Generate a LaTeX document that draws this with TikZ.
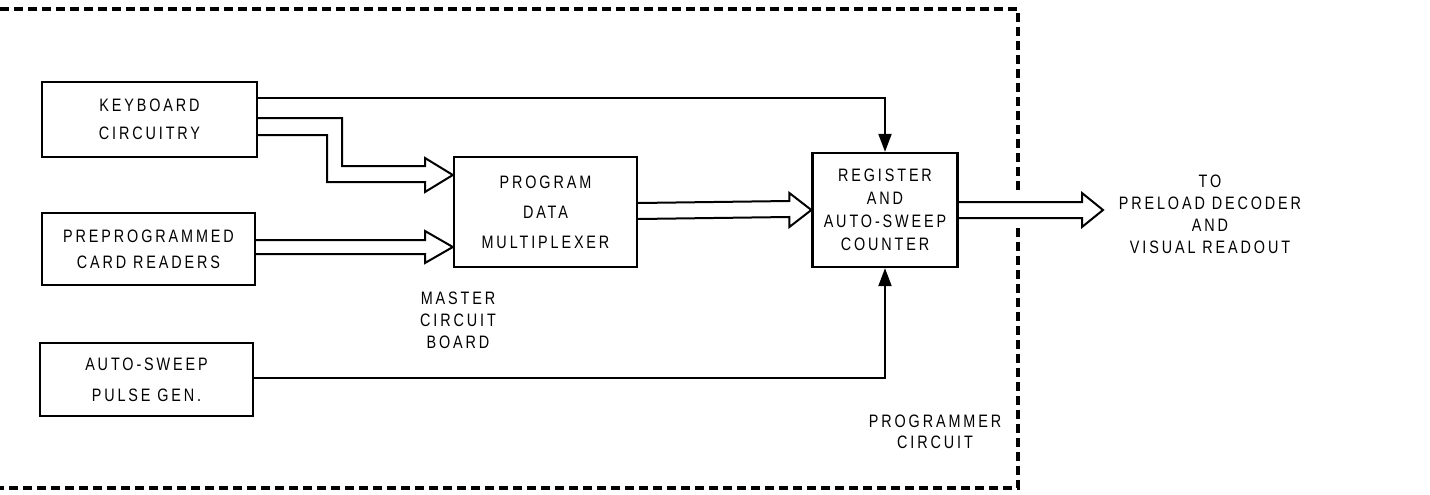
\documentclass[tikz,border=0pt]{standalone}
\usepackage{fontspec}
\newfontfamily\lab[FakeStretch=0.8,LetterSpace=16]{Liberation Sans}
\usetikzlibrary{arrows.meta,calc}
\begin{document}
\begin{tikzpicture}[x=1pt,y=-1pt,
  blk/.style={draw,line width=2.3pt,inner sep=0pt,align=center},
  txt/.style={inner sep=0pt,align=center},
  wire/.style={line width=2pt,line join=miter},
  solidarr/.style={wire,-{Triangle[length=18pt,width=13pt]}},
  frame/.style={line width=3.4pt,dash pattern=on 9pt off 5pt}]
\useasboundingbox (0,0) rectangle (1430,495);
\tikzset{every node/.append style={font=\lab\fontsize{18}{22}\selectfont}}

% blocks
\node[blk,minimum width=215pt,minimum height=75pt,font=\lab\fontsize{18}{28}\selectfont] (kb) at (149.5,119.5) {KEYBOARD\\CIRCUITRY};
\node[blk,minimum width=213pt,minimum height=72pt,font=\lab\fontsize{18}{26}\selectfont] (pp) at (148.5,249) {PREPROGRAMMED\\CARD READERS};
\node[blk,minimum width=213pt,minimum height=73pt,font=\lab\fontsize{18}{31}\selectfont] (as) at (146.5,379.5) {AUTO-SWEEP\\PULSE GEN.};
\node[blk,minimum width=183pt,minimum height=110pt,font=\lab\fontsize{18}{30}\selectfont] (mux) at (545.5,212) {PROGRAM\\DATA\\MULTIPLEXER};
\node[blk,minimum width=145pt,minimum height=114pt,font=\lab\fontsize{18}{23}\selectfont] (reg) at (885,210) {REGISTER\\AND\\AUTO-SWEEP\\COUNTER};

% labels
\node[txt] (master) at (458,320) {MASTER\\CIRCUIT\\BOARD};
\node[txt,font=\lab\fontsize{18}{21}\selectfont] (prog) at (935,432) {PROGRAMMER\\CIRCUIT};
\node[txt] (dest) at (1210,214) {TO\\PRELOAD DECODER\\AND\\VISUAL READOUT};
\coordinate (out) at (1103,210);

% frame
\draw[frame] (0,9) -- (1018,9) -- (1018,192);
\draw[frame] (1018,228) -- (1018,488) -- (0,488);

% single-line connectors
\draw[solidarr] (kb.east |- 0,98) -- (reg.north |- 0,98) -- (reg.north);
\draw[solidarr] (as.east |- 0,378) -- (reg.south |- 0,378) -- (reg.south);

% bus: keyboard -> multiplexer
\draw[wire] (kb.east |- 0,118) -- (342,118) -- (342,166) -- (425,166) -- (425,158)
  -- (mux.west |- 0,175) -- (425,192) -- (425,182) -- (327,182) -- (327,135) -- (kb.east |- 0,135);
% bus: card readers -> multiplexer
\draw[wire] (pp.east |- 0,240) -- (425,240) -- (425,231)
  -- (mux.west |- 0,247) -- (425,263) -- (425,254) -- (pp.east |- 0,254);
% bus: multiplexer -> register
\draw[wire] ($(mux.east)+(0,-9)$) -- ($(reg.west)+(-22,-9)$) -- ($(reg.west)+(-22,-17)$)
  -- (reg.west) -- ($(reg.west)+(-22,17)$) -- ($(reg.west)+(-22,7)$) -- ($(mux.east)+(0,7)$);
% bus: register -> output
\draw[wire] ($(reg.east)+(0,-8)$) -- ($(out)+(-21,-8)$) -- ($(out)+(-21,-17)$)
  -- (out) -- ($(out)+(-21,17)$) -- ($(out)+(-21,8)$) -- ($(reg.east)+(0,8)$);
\end{tikzpicture}
\end{document}
